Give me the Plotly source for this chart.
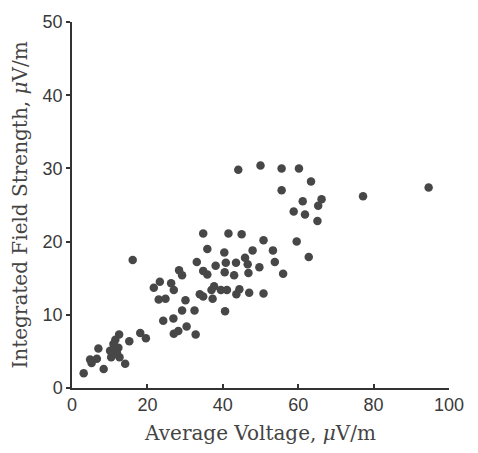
import plotly.graph_objects as go

# Average voltage (µV/m) and integrated field strength (µV/m)
avg_voltage = [
    3.1, 8.4, 4.8, 6.6, 5.2, 7.0, 10.1, 11.0, 11.5, 12.5, 12.3, 11.9, 10.4, 12.6, 14.1,
    15.2, 18.1, 19.6, 11.2, 10.8,
    16.1, 21.7, 23.3, 26.3, 27.0, 23.0, 24.8, 30.1, 29.2, 32.5, 24.2, 26.9, 27.0, 28.2,
    30.4, 32.8, 28.4, 29.2, 33.1, 34.8, 35.9, 34.8, 35.9, 33.9, 34.8, 37.3, 37.0, 37.7,
    39.5, 38.1, 40.4, 40.8, 40.5, 41.5, 40.6, 41.1, 43.0, 43.5, 43.6, 44.4, 45.0, 45.9,
    46.6, 46.8, 47.0, 47.9, 49.7, 50.8, 50.8, 53.3, 53.8, 56.0, 59.6, 62.8,
    44.1, 50.0, 55.6, 60.2, 63.4, 55.6, 61.2, 66.2, 65.3, 58.8, 61.8, 65.1, 77.2, 94.6,
]
field_strength = [
    2.0, 2.6, 3.9, 4.0, 3.4, 5.4, 5.1, 6.0, 6.6, 7.3, 5.5, 4.9, 4.2, 4.2, 3.3,
    6.4, 7.5, 6.8, 5.8, 4.6,
    17.5, 13.7, 14.5, 14.3, 13.4, 12.1, 12.2, 12.0, 10.6, 10.6, 9.2, 9.5, 7.4, 7.8,
    8.4, 7.3, 16.1, 15.4, 17.2, 16.0, 15.5, 21.1, 19.0, 12.8, 12.5, 12.2, 13.4, 13.9,
    13.4, 16.7, 18.5, 17.1, 15.8, 21.1, 10.5, 13.4, 15.4, 17.1, 12.8, 13.5, 21.0, 17.8,
    16.9, 15.7, 13.0, 18.8, 16.5, 20.2, 12.9, 18.8, 17.2, 15.6, 20.0, 17.9,
    29.8, 30.4, 30.0, 30.0, 28.2, 27.0, 25.5, 25.8, 24.9, 24.1, 23.7, 22.8, 26.2, 27.4,
]

x_ticks = [0, 20, 40, 60, 80, 100]
y_ticks = [0, 10, 20, 30, 40, 50]

fig = go.Figure(
    go.Scatter(
        x=avg_voltage,
        y=field_strength,
        mode="markers",
        marker=dict(size=8.5, color="#474747", line=dict(width=0)),
        hoverinfo="x+y",
    )
)

axis_common = dict(
    showgrid=False,
    zeroline=False,
    showline=True,
    linecolor="#333",
    linewidth=1.5,
    tickcolor="#333",
    ticklen=4,
    tickwidth=1.5,
    tickfont=dict(family="Liberation Sans, Arial, sans-serif", size=18, color="#3a3a3a"),
)

title_font = dict(family="DejaVu Serif, serif", size=20, color="#444")

fig.update_layout(
    width=478,
    height=453,
    margin=dict(l=72, r=29, t=14, b=63),
    paper_bgcolor="white",
    plot_bgcolor="white",
    showlegend=False,
    xaxis=dict(
        range=[0, 100],
        tickvals=x_ticks,
        ticks="inside",
        title=dict(text="Average Voltage, <i>μ</i>V/m", font=title_font, standoff=12),
        **axis_common,
    ),
    yaxis=dict(
        range=[0, 50],
        tickvals=y_ticks,
        ticks="outside",
        title=dict(text="Integrated Field Strength, <i>μ</i>V/m", font=title_font, standoff=10),
        **axis_common,
    ),
)

fig.write_html("out.html")
